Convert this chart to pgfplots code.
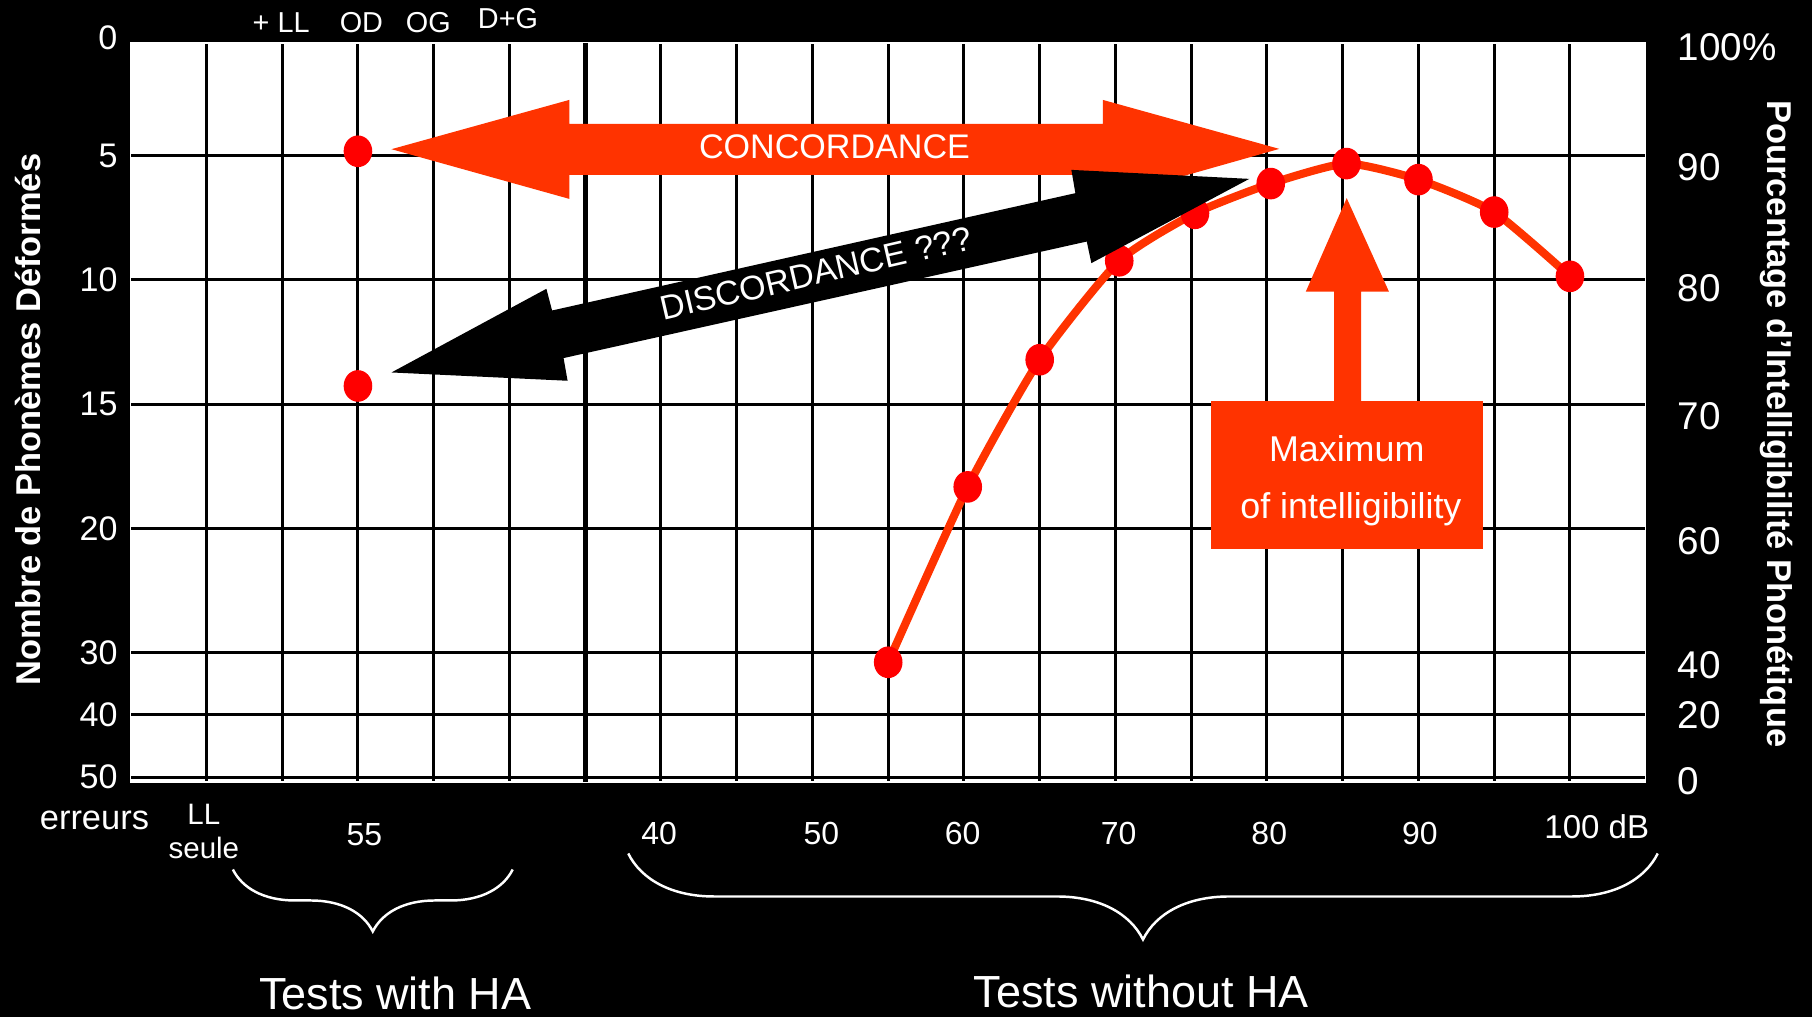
\documentclass[border=0pt]{standalone}
\usepackage{pgfplots}
\pgfplotsset{compat=1.18}
\usepackage{fontspec}
\setmainfont{Liberation Sans}
\usetikzlibrary{decorations.pathreplacing}
\definecolor{orng}{HTML}{FF3300}
\definecolor{dot}{HTML}{FF0000}
\newcommand{\ft}[1]{\fontsize{#1}{#1}\selectfont}

\begin{document}
\begin{tikzpicture}
\useasboundingbox (0,0) rectangle (18.12,10.17);
\fill[black] (0,0) rectangle (18.12,10.17);

% y runs in grid steps: 0,5,10,15,20 errors, then 30, 40, 50 (5.5 and 6)
\begin{axis}[
  at={(1.307cm,9.741cm)}, anchor=north west,
  scale only axis, width=15.15cm, height=7.392cm,
  xmin=0, xmax=20, ymin=0.093, ymax=6.04, y dir=reverse,
  axis background/.style={fill=white},
  axis line style={white},
  xtick={1,2,3,4,5,7,8,9,10,11,12,13,14,15,16,17,18,19}, xticklabels={},
  extra x ticks={6}, extra x tick labels={},
  extra x tick style={grid=major, major grid style={black, line width=1.5pt}},
  ytick={1,2,3,4,5,5.5,6}, yticklabels={5,10,15,20,30,40,50},
  grid=major, major grid style={black, line width=0.85pt},
  major tick length=0pt,
  yticklabel style={white, font=\ft{9.7}, anchor=east, inner sep=0pt, xshift=-0.125cm},
  clip=false,
]
\addplot[only marks, mark=*, color=dot, mark size=4.3pt, mark options={xscale=0.9}]
  coordinates {(3,0.965) (3,2.853)};
\addplot[only marks, mark=*, color=dot, mark size=4.3pt, mark options={xscale=0.9}]
  coordinates {(10,5.076) (11.05,3.665) (12,2.642) (13.05,1.846) (14.05,1.464)
               (15.05,1.225) (16.05,1.064) (17,1.193) (18,1.454) (19,1.971)};
\addplot[orng, line width=2.3pt, smooth, tension=0.35]
  coordinates {(10,5.076) (11.05,3.665) (12,2.642) (13.05,1.846) (14.05,1.464)
               (15.05,1.225) (16.05,1.064) (17,1.193) (18,1.454) (19,1.971)};
\end{axis}

% right-hand percentage scale
\begin{axis}[
  at={(1.307cm,9.741cm)}, anchor=north west,
  scale only axis, width=15.15cm, height=7.392cm,
  xmin=0, xmax=20, ymin=0.093, ymax=6.04, y dir=reverse,
  axis line style={draw=none}, major tick length=0pt, xtick=\empty,
  yticklabel pos=right,
  ytick={0.129,1.094,2.068,3.097,4.10,5.10,5.50,6.03},
  yticklabels={100\%,90,80,70,60,40,20,0},
  yticklabel style={white, font=\ft{11}, anchor=west, inner sep=0pt, xshift=0.315cm},
]
\end{axis}

\begin{scope}[x=0.01cm, y=-0.01cm, shift={(0,10.17cm)}]
  % axis titles
  \node[white, rotate=90, font=\bfseries\ft{9.8}] at (28,420) {Nombre de Phonèmes Déformés};
  \node[white, rotate=-90, font=\bfseries\ft{9.8}] at (1777,424) {Pourcentage d’Intelligibilité Phonétique};
  \node[white, anchor=east, inner sep=0pt, font=\ft{9.7}] at (118,38) {0};

  % top labels
  \begin{scope}[every node/.style={white, anchor=base, inner sep=0pt, font=\ft{8.2}}]
    \node at (281.3,32.3) {+ LL};
    \node at (361.6,32.3) {OD};
    \node at (428.6,32.3) {OG};
    \node at (508.3,28.3) {D+G};
  \end{scope}

  % bottom labels
  \begin{scope}[every node/.style={white, anchor=base, inner sep=0pt, font=\ft{9.1}}]
    \node[font=\ft{9.8}] at (94.5,830) {erreurs};
    \node[font=\ft{8.4}] at (204,825) {LL};
    \node[font=\ft{8.4}] at (204,859.3) {seule};
    \node at (364.7,846) {55};
    \node at (659.5,845) {40};
    \node at (821.8,845) {50};
    \node at (963.2,845) {60};
    \node at (1119.3,845) {70};
    \node at (1270,845) {80};
    \node at (1420.7,845) {90};
    \node[font=\ft{9.4}] at (1597.7,839.3) {100 dB};
  \end{scope}

  % braces
  \draw[white, line width=0.7pt, decorate, decoration={brace, mirror, amplitude=0.62cm}]
    (233,870) -- (513,870);
  \draw[white, line width=0.7pt, decorate, decoration={brace, mirror, amplitude=0.86cm}]
    (628.6,854) -- (1658.7,854);
  \node[white, anchor=base, font=\ft{12.8}] at (395.5,1010) {Tests with HA};
  \node[white, anchor=base, font=\ft{12.8}] at (1142,1008.5) {Tests without HA};

  % concordance arrow
  \fill[orng] (391.7,149.3) -- (569.6,100) -- (569.6,124) -- (1103.5,124) -- (1103.5,100)
    -- (1280,149) -- (1103.5,199) -- (1103.5,175) -- (569.6,175) -- (569.6,199) -- cycle;
  \node[white, anchor=base, font=\ft{9.7}] at (835,159) {CONCORDANCE};

  % discordance arrow
  \fill[black] (391.7,372.7) -- (546.7,289) -- (552.4,310.7) -- (1076,193.3) -- (1072,170)
    -- (1250,179) -- (1092,263.3) -- (1087.4,241.7) -- (563.9,358.3) -- (567.9,381) -- cycle;
  \node[white, rotate=13, font=\ft{9.7}] at (816.5,273.3) {DISCORDANCE ???};

  % maximum arrow and box
  \fill[orng] (1347.5,198.3) -- (1389.7,291.7) -- (1362,291.7) -- (1362,402) -- (1334.8,402)
    -- (1334.8,291.7) -- (1306.6,291.7) -- cycle;
  \fill[orng] (1212,401.3) rectangle (1483.7,549);
  \node[white, anchor=base, font=\ft{10.2}] at (1347.5,461.7) {Maximum};
  \node[white, anchor=base, font=\ft{10.2}] at (1351.7,519.3) {of intelligibility};
\end{scope}
\end{tikzpicture}
\end{document}
